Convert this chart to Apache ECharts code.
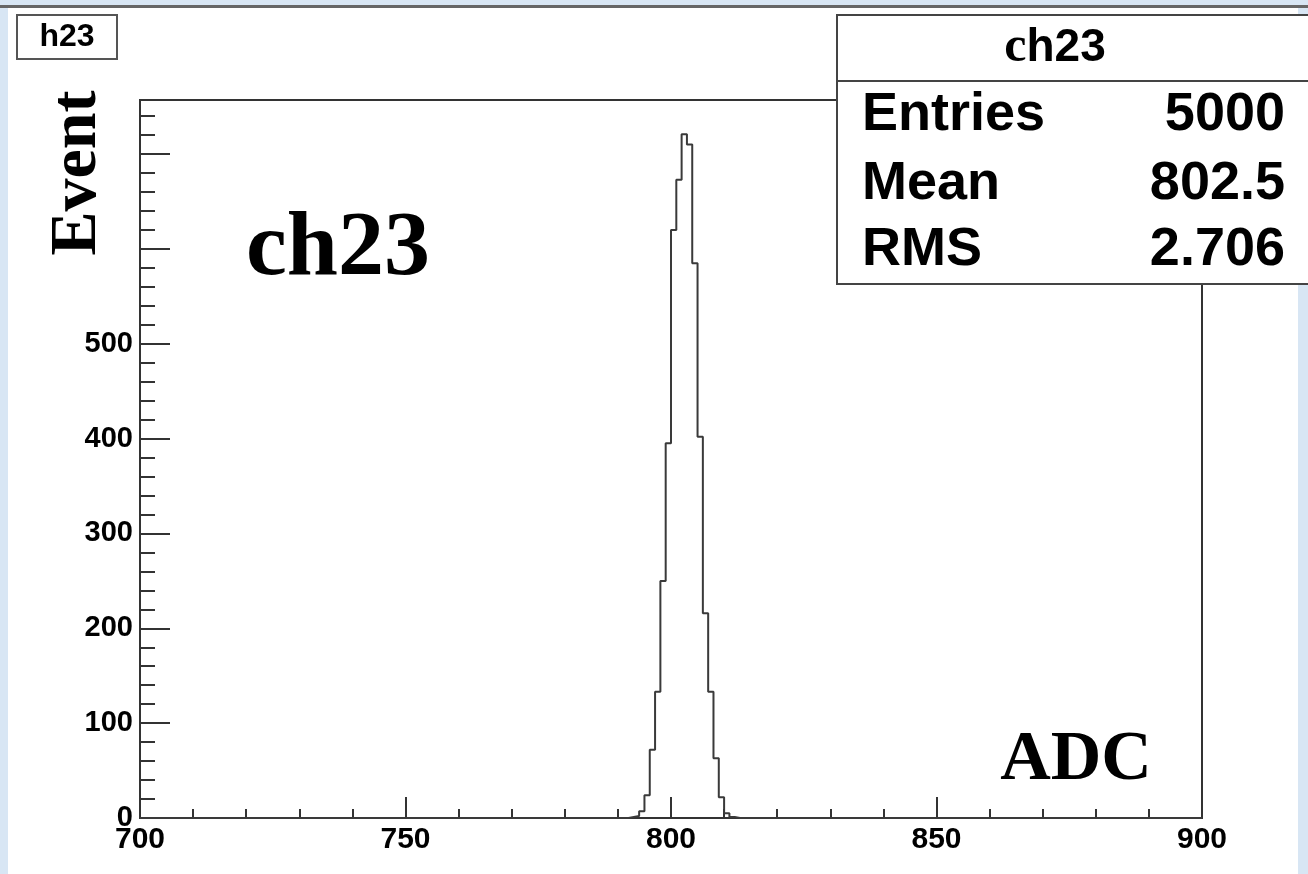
<!DOCTYPE html>
<html>
<head>
<meta charset="utf-8">
<script src="https://cdn.jsdelivr.net/npm/echarts@6/dist/echarts.min.js"></script>
<style>
  html, body { margin: 0; padding: 0; background: #d8e6f4; }
  #hist { width: 1308px; height: 874px; }
</style>
</head>
<body>
<div id="hist"></div>
<script>
// histogram ch23: 1-ADC-wide bins
var firstBin = 792;
var counts = [1, 2, 7, 24, 72, 133, 250, 395, 620, 673, 721, 710, 585, 402, 216, 133, 63, 22, 5, 1];
var xMin = 700, xMax = 900;
var yMax = 757;

var statNames = ['Entries', 'Mean', 'RMS'];
var statValues = ['5000', '802.5', '2.706'];

window.onload = function () {
    var myChart = echarts.init(document.getElementById('hist'));

    // outline points at bin low edges, empty bins are 0
    var line = [];
    for (var x = xMin; x < xMax; x++) {
        var i = x - firstBin;
        line.push([x, (i >= 0 && i < counts.length) ? counts[i] : 0]);
    }
    line.push([xMax, 0]);

    var sans = '"Liberation Sans", Arial, sans-serif';
    var serif = '"Liberation Serif", "Times New Roman", serif';
    var ink = '#333';

    var statRows = [];
    var rowY = [115, 184, 250];
    statNames.forEach(function (name, k) {
        statRows.push({
            type: 'text', z: 102, x: 862, y: rowY[k],
            style: { text: name, font: 'bold 54px ' + sans, fill: '#000',
                     textAlign: 'left', textVerticalAlign: 'middle' }
        });
        statRows.push({
            type: 'text', z: 102, x: 1285, y: rowY[k],
            style: { text: statValues[k], font: 'bold 54px ' + sans, fill: '#000',
                     textAlign: 'right', textVerticalAlign: 'middle' }
        });
    });

    var option = {
        backgroundColor: '#d8e6f4',
        animation: false,
        grid: {
            left: 140, top: 100, width: 1062, height: 718,
            show: true, borderColor: ink, borderWidth: 2, backgroundColor: 'transparent'
        },
        xAxis: {
            type: 'value', min: xMin, max: xMax, interval: 50,
            axisLine: { show: true, lineStyle: { color: ink, width: 2 } },
            axisTick: { show: true, inside: true, length: 21, lineStyle: { color: ink, width: 2 } },
            minorTick: { show: true, splitNumber: 5, length: 9, lineStyle: { color: ink, width: 2 } },
            splitLine: { show: false },
            axisLabel: { color: '#000', fontWeight: 'bold', fontSize: 30, fontFamily: sans, margin: 7 }
        },
        yAxis: [{
            type: 'value', min: 0, max: yMax, interval: 100, position: 'left',
            axisLine: { show: true, lineStyle: { color: ink, width: 2 } },
            axisTick: { show: true, inside: true, length: 30, lineStyle: { color: ink, width: 2 } },
            splitLine: { show: false },
            axisLabel: {
                color: '#000', fontWeight: 'bold', fontSize: 29, fontFamily: sans, margin: 7,
                formatter: function (v) { return v % 100 === 0 ? String(v) : ''; }
            }
        }, {
            type: 'value', min: 0, max: yMax, interval: 20, position: 'left', offset: 0,
            axisLine: { show: false },
            axisTick: { show: true, inside: true, length: 15, lineStyle: { color: ink, width: 2 } },
            splitLine: { show: false },
            axisLabel: { show: false }
        }],
        series: [{
            type: 'line',
            step: 'end',
            data: line,
            symbol: 'none',
            yAxisIndex: 0,
            lineStyle: { color: '#3a3a3a', width: 2 },
            z: 5
        }],
        graphic: [
            // canvas
            { type: 'rect', z: -100, shape: { x: 8, y: 8, width: 1290, height: 880 }, style: { fill: '#fff' } },
            { type: 'rect', z: -99, shape: { x: 0, y: 5, width: 1308, height: 3 }, style: { fill: '#666' } },
            // histogram name box
            { type: 'rect', z: 50, shape: { x: 17, y: 15, width: 100, height: 44 },
              style: { fill: '#fff', stroke: '#555', lineWidth: 2 } },
            { type: 'text', z: 51, x: 67, y: 37,
              style: { text: 'h23', font: 'bold 32px ' + sans, fill: '#000',
                       textAlign: 'center', textVerticalAlign: 'middle' } },
            // y title sits on a white patch that hides the upper tick labels
            { type: 'rect', z: 49, shape: { x: 30, y: 72, width: 107, height: 194 },
              style: { fill: '#fff' } },
            { type: 'text', z: 50, x: 78, y: 173, rotation: Math.PI / 2,
              style: { text: 'Event', font: 'bold 66px ' + serif, fill: '#000',
                       textAlign: 'center', textVerticalAlign: 'middle' } },
            { type: 'text', z: 50, x: 338, y: 250,
              style: { text: 'ch23', font: 'bold 92px ' + serif, fill: '#000',
                       textAlign: 'center', textVerticalAlign: 'middle' } },
            { type: 'text', z: 50, x: 1076, y: 761,
              style: { text: 'ADC', font: 'bold 70px ' + serif, fill: '#000',
                       textAlign: 'center', textVerticalAlign: 'middle' } },
            // stats box
            { type: 'rect', z: 100, shape: { x: 837, y: 15, width: 490, height: 269 },
              style: { fill: '#fff', stroke: '#444', lineWidth: 2 } },
            { type: 'line', z: 101, shape: { x1: 837, y1: 81, x2: 1308, y2: 81 },
              style: { stroke: '#444', lineWidth: 2 } },
            { type: 'text', z: 102, x: 1055, y: 48,
              style: {
                  text: '{c|c}{h|h23}',
                  textAlign: 'center', textVerticalAlign: 'middle',
                  rich: {
                      c: { font: 'bold 50px ' + serif, fill: '#000' },
                      h: { font: 'bold 46px ' + sans, fill: '#000' }
                  }
              } }
        ].concat(statRows)
    };
    myChart.setOption(option);
    window.addEventListener('resize', function () {
        myChart.resize();
    });
};
</script>
</body>
</html>
